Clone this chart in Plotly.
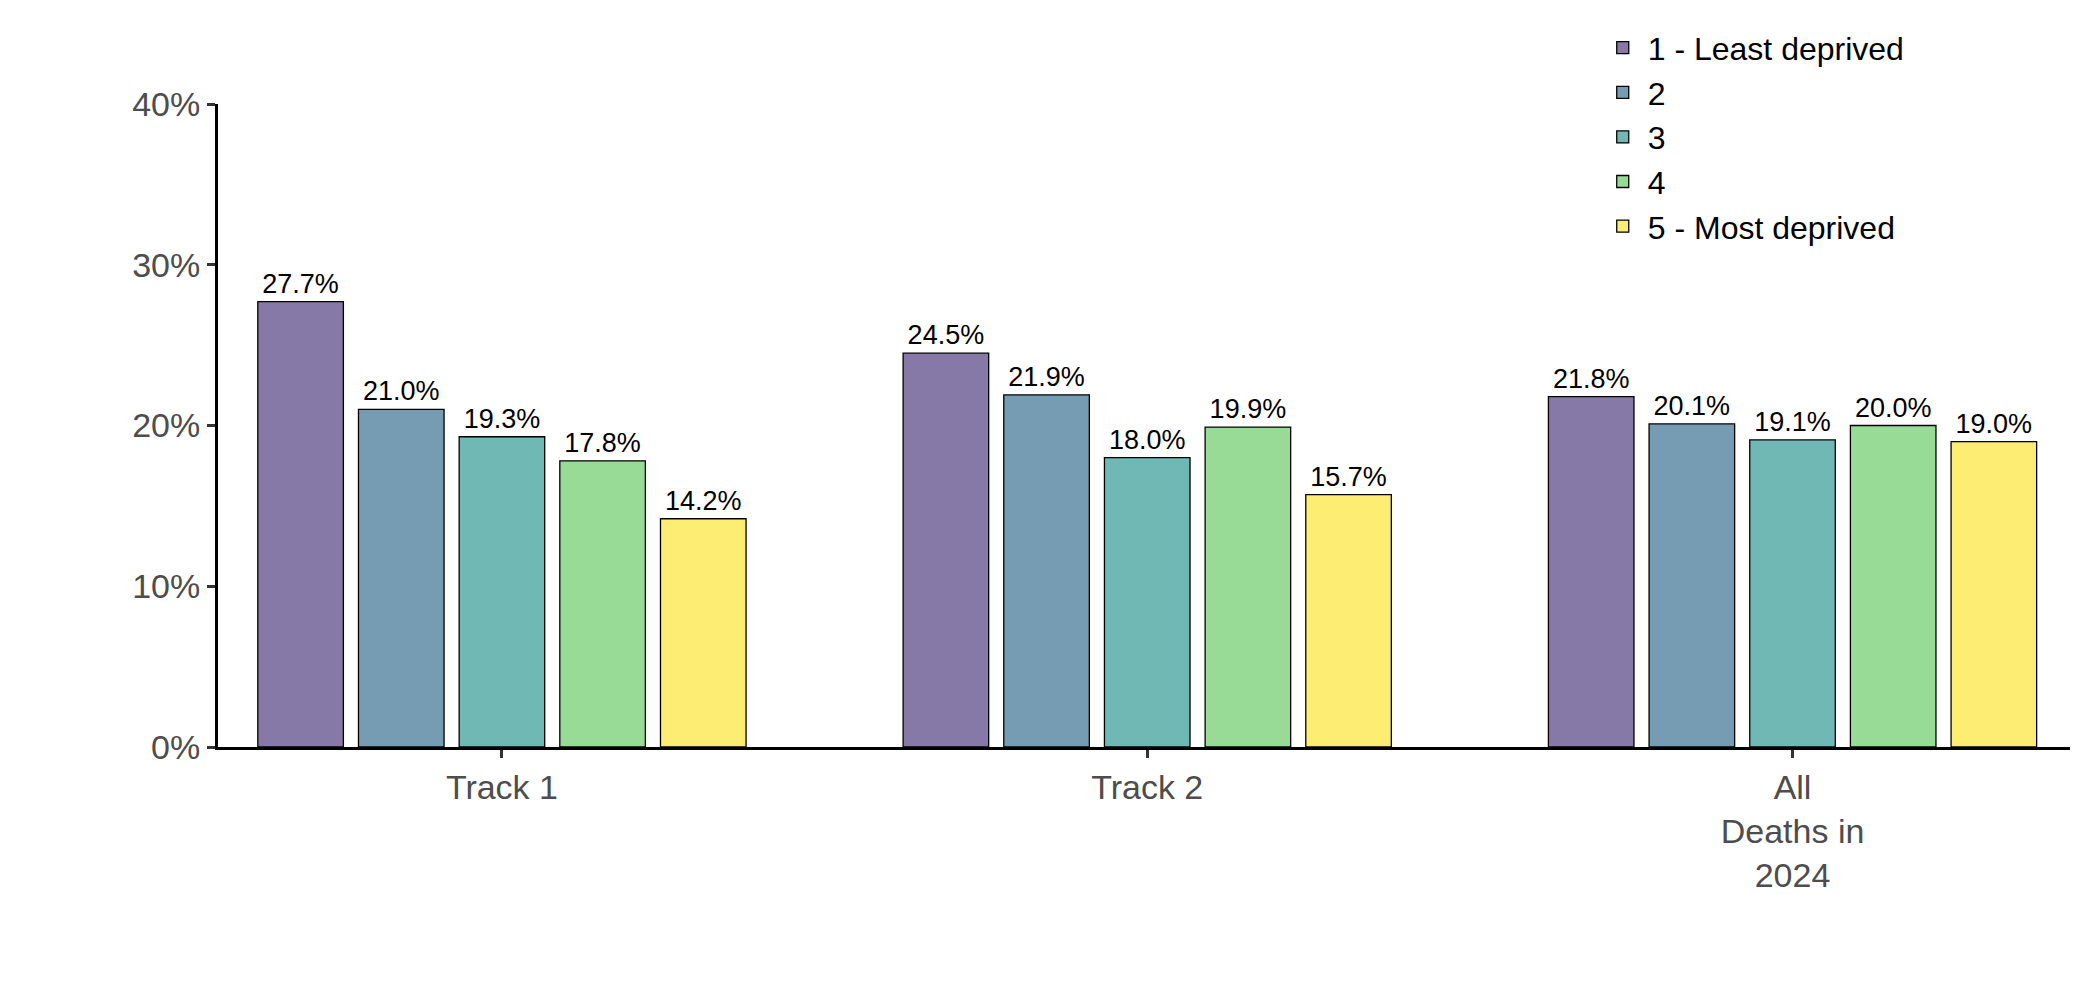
import plotly.graph_objects as go

categories = ["Track 1", "Track 2", "All<br>Deaths in<br>2024"]
quintiles = ["1 - Least deprived", "2", "3", "4", "5 - Most deprived"]
values = [
    [27.7, 24.5, 21.8],
    [21.0, 21.9, 20.1],
    [19.3, 18.0, 19.1],
    [17.8, 19.9, 20.0],
    [14.2, 15.7, 19.0],
]
colors = ["#8679A8", "#769CB3", "#6FB8B3", "#97DB97", "#FDEE73"]

fig = go.Figure()
for name, vals, col in zip(quintiles, values, colors):
    fig.add_trace(go.Bar(
        x=categories, y=vals, name=name,
        marker=dict(color=col, line=dict(color="black", width=1.3)),
        text=[f"{v:.1f}%" for v in vals], textposition="outside",
        textfont=dict(size=27, color="black"), cliponaxis=False,
    ))

fig.update_layout(
    width=2078, height=1007, barmode="group", bargap=0.22, bargroupgap=0.15,
    plot_bgcolor="white", paper_bgcolor="white",
    font=dict(family="Liberation Sans, Arial, sans-serif"),
    margin=dict(l=210, r=16, t=92, b=268),
    uniformtext=dict(minsize=27, mode="show"),
    legend=dict(x=0.745, y=1.13, xanchor="left", yanchor="top",
                font=dict(size=32, color="black"), tracegroupgap=0,
                itemwidth=40),
)
fig.update_xaxes(range=[-0.44, 2.43], showline=True, linecolor="black", linewidth=3,
                 ticks="outside", ticklen=8, tickwidth=3, tickcolor="#333",
                 tickfont=dict(size=34, color="#4D4D4D"))
fig.update_yaxes(range=[0, 40], showline=True, linecolor="black", linewidth=3,
                 ticks="outside", ticklen=8, tickwidth=3, tickcolor="#333",
                 showgrid=False, zeroline=False, dtick=10, ticksuffix="%",
                 tickfont=dict(size=34, color="#4D4D4D"))
fig.write_html("out.html")
